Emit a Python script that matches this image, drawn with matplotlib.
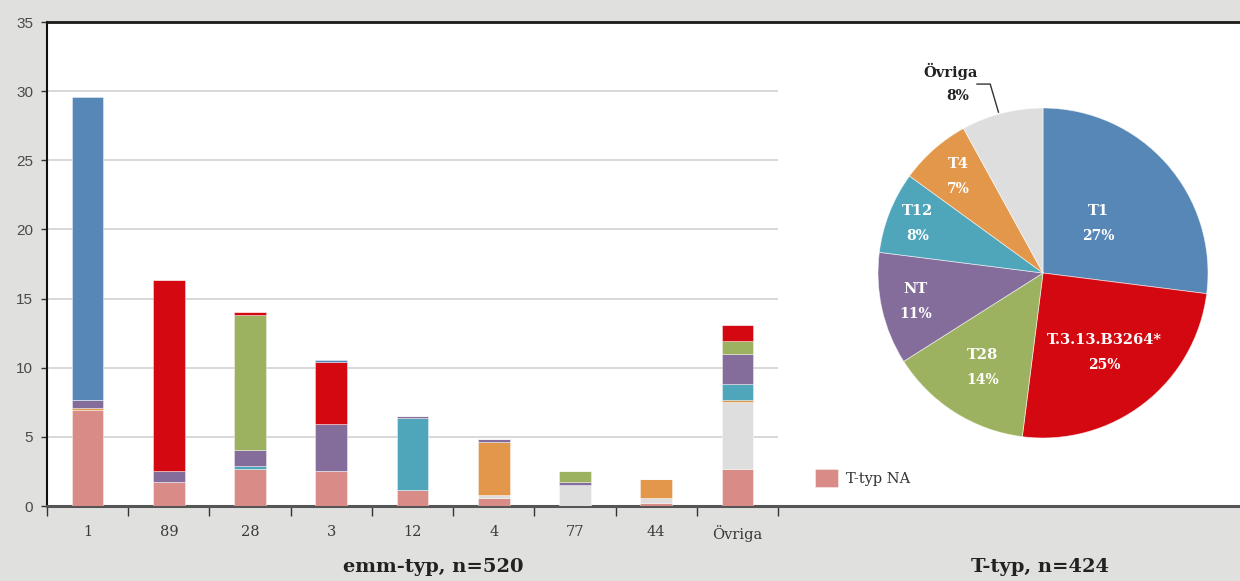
import matplotlib
matplotlib.use("Agg")
import matplotlib.pyplot as plt
import numpy as np

# emm-typ categories (x axis)
categories = ["1", "89", "28", "3", "12", "4", "77", "44", "Övriga"]

# share of isolates (%) per emm-typ, split by T-typ (stacked bottom to top)
t_na = [6.92, 1.73, 2.69, 2.50, 1.15, 0.58, 0.00, 0.19, 2.69]
t_ovriga = [0.00, 0.00, 0.00, 0.00, 0.00, 0.19, 1.54, 0.38, 4.81]
t4 = [0.19, 0.00, 0.00, 0.00, 0.00, 3.85, 0.00, 1.35, 0.19]
t12 = [0.00, 0.00, 0.19, 0.00, 5.19, 0.00, 0.00, 0.00, 1.15]
nt = [0.58, 0.77, 1.15, 3.46, 0.19, 0.19, 0.19, 0.00, 2.12]
t28 = [0.00, 0.00, 9.81, 0.00, 0.00, 0.00, 0.77, 0.00, 0.96]
t3_13 = [0.00, 13.85, 0.19, 4.42, 0.00, 0.00, 0.00, 0.00, 1.15]
t1 = [21.92, 0.00, 0.00, 0.19, 0.00, 0.00, 0.00, 0.00, 0.00]

y_ticks = [0, 5, 10, 15, 20, 25, 30, 35]

# T-typ distribution (pie)
pie_labels = ["T1", "T.3.13.B3264*", "T28", "NT", "T12", "T4", "Övriga"]
pie_pct = [27, 25, 14, 11, 8, 7, 8]

x_title = "emm-typ, n=520"
pie_title = "T-typ, n=424"

# colours
C_NA = "#d98c87"
C_OVR = "#dedede"
C_T4 = "#e3974b"
C_T12 = "#4fa6bb"
C_NT = "#846c9b"
C_T28 = "#9db260"
C_T3 = "#d40811"
C_T1 = "#5687b6"
BG = "#e0e0de"

SERIF = "DejaVu Serif"

W, H = 1240, 581
fig = plt.figure(figsize=(W / 100, H / 100), dpi=100, facecolor=BG)

# ---------- stacked bars ----------
ax = fig.add_axes([47 / W, 75 / H, (W - 47) / W, 484 / H])
ax.set_facecolor("white")
cat_px = 81.22
ax.set_xlim(-0.5, -0.5 + (W - 47) / cat_px)
ax.set_ylim(0, 35)

x = np.arange(len(categories))
stack = [
    (t_na, C_NA), (t_ovriga, C_OVR), (t4, C_T4), (t12, C_T12),
    (nt, C_NT), (t28, C_T28), (t3_13, C_T3), (t1, C_T1),
]
bottom = np.zeros(len(categories))
handles = []
for vals, col in stack:
    v = np.array(vals)
    b = ax.bar(x, v, width=0.39, bottom=bottom, color=col,
               edgecolor=(1, 1, 1, 0.45), linewidth=0.6, zorder=3)
    handles.append(b)
    bottom += v

# horizontal grid only across the bar area
ax.hlines(y_ticks[1:-1], -0.5, len(categories) - 0.5,
          color="#d6d6d6", linewidth=1.3, zorder=1)

ax.spines["right"].set_visible(False)
ax.spines["left"].set_color("#111111")
ax.spines["left"].set_linewidth(1.5)
ax.spines["top"].set_color("#1a1a1a")
ax.spines["top"].set_linewidth(2.0)
ax.spines["bottom"].set_color("#555555")
ax.spines["bottom"].set_linewidth(2.2)

ax.set_yticks(y_ticks)
ax.set_yticklabels([str(v) for v in y_ticks], fontsize=11,
                   color="#4a4a4a", family="Liberation Sans")
ax.tick_params(axis="y", length=4.5, width=1, color="#333333", pad=5.5)

ax.set_xticks(np.arange(len(categories) + 1) - 0.5)
ax.set_xticklabels([])
ax.tick_params(axis="x", which="major", length=7, width=1, color="#333333")
ax.set_xticks(x, minor=True)
ax.set_xticklabels(categories, minor=True, fontsize=10.5, color="#3a3a3a",
                   family=SERIF, fontweight="light")
ax.tick_params(axis="x", which="minor", length=0, pad=14)

leg = ax.legend([handles[0]], ["T-typ NA"], loc="center left",
                bbox_to_anchor=(815 / W, (H - 478) / H),
                bbox_transform=fig.transFigure, frameon=False,
                borderpad=0, borderaxespad=0, handlelength=1.55,
                handleheight=1.55, handletextpad=0.55,
                prop={"family": SERIF, "size": 10.5})
for t in leg.get_texts():
    t.set_color("#333333")

fig.text(433 / W, 1 - 567 / H, x_title, ha="center", va="center",
         fontsize=14, fontweight="bold", family=SERIF, color="#222222")
fig.text(1040 / W, 1 - 567 / H, pie_title, ha="center", va="center",
         fontsize=14, fontweight="bold", family=SERIF, color="#222222")

# ---------- pie ----------
cx, cy, r = 1043, 273, 165
pax = fig.add_axes([(cx - r) / W, (H - cy - r) / H, 2 * r / W, 2 * r / H])
pie_colors = [C_T1, C_T3, C_T28, C_NT, C_T12, C_T4, C_OVR]
wedges, _ = pax.pie(pie_pct, colors=pie_colors, startangle=90,
                    counterclock=False, radius=1,
                    wedgeprops=dict(edgecolor=(1, 1, 1, 0.6), linewidth=0.6))
pax.set_xlim(-1, 1)
pax.set_ylim(-1, 1)
pax.set_aspect("equal")

label_r = [0.45, 0.61, 0.68, 0.79, 0.82, 0.78]
dy = 12.5 / r
for w, name, pct, rr in zip(wedges[:-1], pie_labels[:-1], pie_pct[:-1], label_r):
    ang = np.deg2rad((w.theta1 + w.theta2) / 2)
    lx, ly = rr * np.cos(ang), rr * np.sin(ang)
    pax.text(lx, ly + dy, name, ha="center", va="center", color="white",
             fontsize=10.5, fontweight="bold", family=SERIF)
    pax.text(lx, ly - dy, f"{pct}%", ha="center", va="center", color="white",
             fontsize=10, fontweight="bold", family=SERIF)

# outside label for the last slice with a leader line
pax.text(-0.56, 1.22, pie_labels[-1], ha="center", va="center",
         color="#222222", fontsize=10.5, fontweight="bold", family=SERIF)
pax.text(-0.52, 1.07, f"{pie_pct[-1]}%", ha="center", va="center",
         color="#222222", fontsize=10, fontweight="bold", family=SERIF)
pax.plot([-0.40, -0.32, -0.27], [1.145, 1.145, 0.975], color="#333333",
         linewidth=1.0, clip_on=False)

fig.savefig("out.png", dpi=100, facecolor=BG)
